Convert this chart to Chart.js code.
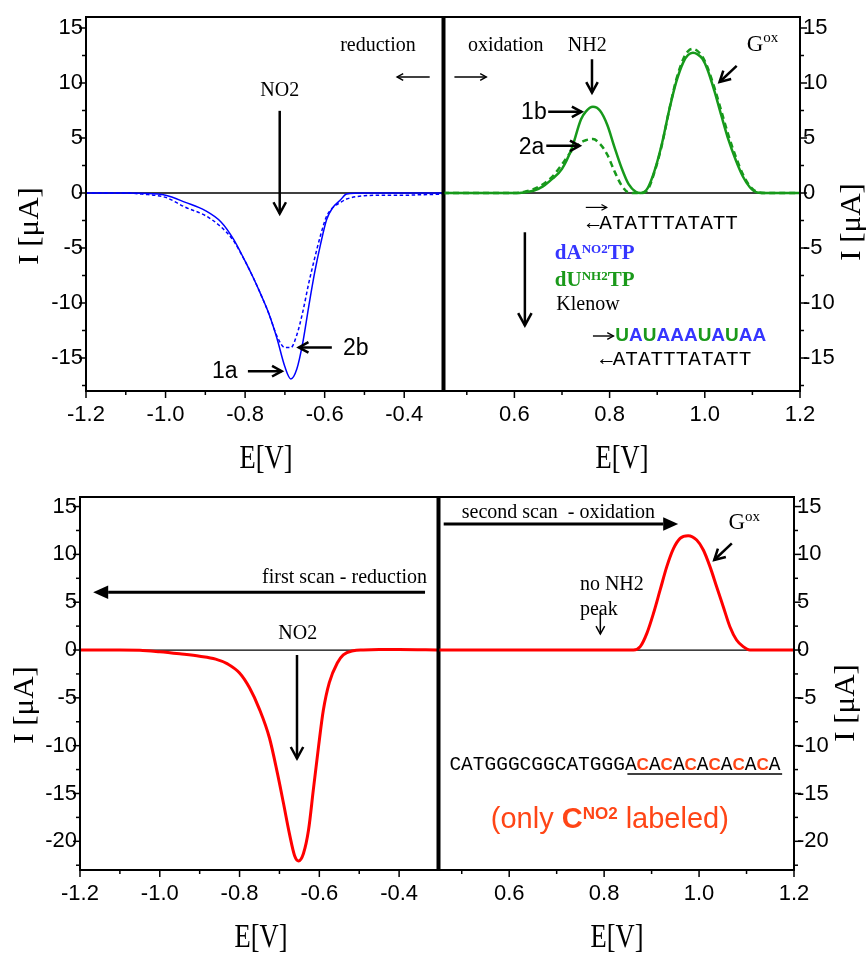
<!DOCTYPE html>
<html>
<head>
<meta charset="utf-8">
<script src="https://cdn.jsdelivr.net/npm/chart.js@4.4.1/dist/chart.umd.min.js"></script>
<style>
  html, body { margin: 0; padding: 0; background: #fff; }
  #fig { position: relative; width: 868px; height: 953px; overflow: hidden; }
  canvas { position: absolute; }
</style>
</head>
<body>
<div id="fig">
  <canvas id="tl" width="446" height="480" style="left:0;top:0"></canvas>
  <canvas id="tr" width="428" height="480" style="left:440px;top:0"></canvas>
  <canvas id="bl" width="442" height="473" style="left:0;top:480px"></canvas>
  <canvas id="br" width="433" height="473" style="left:435px;top:480px"></canvas>
</div>
<script>
// ---- values ----
// top left: reduction scan, solid = 1a, dashed = 2b
const tlE      = [-1.2, -1.1, -1.06, -1.0, -0.95, -0.9, -0.86, -0.83, -0.8, -0.78, -0.76, -0.74, -0.72, -0.70, -0.685, -0.67, -0.655, -0.64, -0.625, -0.61, -0.595, -0.58, -0.56, -0.545, -0.5, -0.45, -0.4, -0.35, -0.3];
const tlSolid  = [0, 0, -0.03, -0.2, -0.85, -1.6, -2.65, -4.15, -6.2, -7.66, -9.26, -11.0, -13.2, -15.8, -16.9, -16.0, -13.6, -10.3, -7.2, -4.6, -2.4, -1.35, -0.62, -0.1, 0, 0, 0, 0, 0];
const tlDashed = [0, 0, -0.1, -0.4, -1.3, -2.05, -3.1, -4.3, -6.2, -7.66, -9.26, -11.0, -13.0, -14.05, -14.05, -12.9, -10.8, -8.2, -5.9, -3.8, -2.1, -1.35, -0.85, -0.55, -0.25, -0.2, -0.2, -0.15, -0.1];

// top right: oxidation scan, solid = 1b, dashed = 2a
const trE      = [0.45, 0.55, 0.6, 0.62, 0.64, 0.66, 0.68, 0.70, 0.72, 0.74, 0.75, 0.765, 0.78, 0.795, 0.81, 0.825, 0.84, 0.855, 0.865, 0.88, 0.895, 0.91, 0.925, 0.94, 0.955, 0.965, 0.975, 0.985, 0.995, 1.005, 1.02, 1.035, 1.05, 1.065, 1.08, 1.095, 1.11, 1.13, 1.2];
const trSolid  = [0, 0, 0, 0.05, 0.2, 0.6, 1.3, 2.2, 4.0, 6.7, 7.4, 7.83, 7.47, 6.2, 4.2, 2.3, 0.8, 0.1, 0, 0.45, 2.1, 4.5, 7.5, 10.1, 11.9, 12.55, 12.75, 12.6, 12.2, 11.3, 9.3, 7.0, 4.8, 3.0, 1.5, 0.5, 0.05, 0, 0];
const trDashed = [0, 0, 0, 0.1, 0.35, 0.8, 1.5, 2.6, 3.8, 4.6, 4.8, 4.9, 4.45, 3.5, 2.0, 0.7, 0.05, 0, 0, 0.3, 2.0, 4.4, 7.5, 10.3, 12.2, 12.9, 13.1, 12.9, 12.4, 11.5, 9.6, 7.4, 5.2, 3.3, 1.7, 0.6, 0.1, 0, 0];

// bottom left: first scan (reduction)
const blE     = [-1.2, -1.1, -1.05, -1.0, -0.95, -0.9, -0.86, -0.83, -0.8, -0.775, -0.75, -0.725, -0.705, -0.69, -0.675, -0.662, -0.652, -0.64, -0.627, -0.615, -0.602, -0.59, -0.575, -0.555, -0.54, -0.515, -0.49, -0.45, -0.4, -0.3];
const blCurve = [0, 0, -0.02, -0.18, -0.4, -0.65, -0.95, -1.45, -2.4, -3.95, -6.2, -9.2, -12.9, -16.0, -19.2, -21.5, -22.05, -21.3, -18.8, -14.6, -10.1, -6.3, -3.4, -1.35, -0.5, -0.08, 0, 0.05, 0.05, 0];

// bottom right: second scan (oxidation)
const brE     = [0.45, 0.6, 0.7, 0.8, 0.85, 0.862, 0.876, 0.89, 0.904, 0.918, 0.932, 0.946, 0.96, 0.977, 0.995, 1.009, 1.023, 1.037, 1.051, 1.065, 1.079, 1.093, 1.107, 1.15, 1.2];
const brCurve = [0, 0, 0, 0, 0, 0, 0.35, 1.74, 3.84, 6.28, 8.72, 10.6, 11.68, 11.96, 11.5, 10.46, 8.72, 6.62, 4.53, 2.44, 1.05, 0.35, 0, 0, 0];

// ticks
const leftXTicks  = [-1.2, -1.0, -0.8, -0.6, -0.4];
const leftXMinor  = [-1.1, -0.9, -0.7, -0.5];
const rightXTicks = [0.6, 0.8, 1.0, 1.2];
const rightXMinor = [0.5, 0.7, 0.9, 1.1];
const topYTicks   = [15, 10, 5, 0, -5, -10, -15];
const topYMinor   = [12.5, 7.5, 2.5, -2.5, -7.5, -12.5, -17.5];
const botYTicks   = [15, 10, 5, 0, -5, -10, -15, -20];
const botYMinor   = [12.5, 7.5, 2.5, -2.5, -7.5, -12.5, -17.5, -22.5];

const SERIF = '"Liberation Serif", "Times New Roman", serif';
const SANS  = '"Liberation Sans", Arial, sans-serif';
const MONO  = '"Liberation Mono", "Courier New", monospace';
const BLUE_TXT = '#3535ff', GREEN_TXT = '#1a991a', ORANGE = '#ff4516';

// ---- drawing helpers ----
function drawRich(ctx, segs, x, y, align) {
  let w = 0;
  segs.forEach(s => { ctx.font = s.font; s.w = ctx.measureText(s.t).width; w += s.w; });
  let cx = align === 'center' ? x - w / 2 : align === 'right' ? x - w : x;
  ctx.textAlign = 'left';
  ctx.textBaseline = 'middle';
  segs.forEach(s => {
    ctx.font = s.font;
    ctx.fillStyle = s.color || '#000';
    ctx.fillText(s.t, cx, y + (s.dy || 0));
    cx += s.w;
  });
}

function drawArrow(ctx, x1, y1, x2, y2, lw, head, filled) {
  const ang = Math.atan2(y2 - y1, x2 - x1);
  ctx.lineWidth = lw;
  ctx.strokeStyle = '#000';
  ctx.fillStyle = '#000';
  ctx.lineCap = 'butt';
  if (filled) {
    const bx = x2 - Math.cos(ang) * head, by = y2 - Math.sin(ang) * head;
    ctx.beginPath(); ctx.moveTo(x1, y1); ctx.lineTo(bx, by); ctx.stroke();
    const hw = head * 0.45;
    ctx.beginPath();
    ctx.moveTo(x2, y2);
    ctx.lineTo(bx + Math.sin(ang) * hw, by - Math.cos(ang) * hw);
    ctx.lineTo(bx - Math.sin(ang) * hw, by + Math.cos(ang) * hw);
    ctx.closePath(); ctx.fill();
  } else {
    ctx.beginPath(); ctx.moveTo(x1, y1); ctx.lineTo(x2, y2); ctx.stroke();
    ctx.beginPath();
    ctx.moveTo(x2 - Math.cos(ang - 0.5) * head, y2 - Math.sin(ang - 0.5) * head);
    ctx.lineTo(x2, y2);
    ctx.lineTo(x2 - Math.cos(ang + 0.5) * head, y2 - Math.sin(ang + 0.5) * head);
    ctx.stroke();
  }
}

const panelDeco = {
  id: 'panelDeco',
  beforeDatasetsDraw(chart, args, o) {
    const {ctx, chartArea: a, scales: {y}} = chart;
    const y0 = y.getPixelForValue(0);
    ctx.save();
    ctx.strokeStyle = '#000'; ctx.lineWidth = 1.3;
    ctx.beginPath(); ctx.moveTo(a.left, y0); ctx.lineTo(a.right, y0); ctx.stroke();
    ctx.restore();
  },
  afterDraw(chart, args, o) {
    const {ctx, chartArea: a, scales: {x, y}} = chart;
    ctx.save();
    // frame + divider
    ctx.strokeStyle = '#000';
    ctx.lineWidth = 2;
    ctx.strokeRect(a.left, a.top, a.right - a.left, a.bottom - a.top);
    ctx.lineWidth = 3;
    const dx = o.divider === 'right' ? a.right : a.left;
    ctx.beginPath(); ctx.moveTo(dx, a.top - 1); ctx.lineTo(dx, a.bottom + 1); ctx.stroke();

    // tick marks
    ctx.lineWidth = 1.5;
    const xt = (vals, len) => vals.forEach(v => {
      const px = x.getPixelForValue(v);
      ctx.beginPath(); ctx.moveTo(px, a.bottom); ctx.lineTo(px, a.bottom + len); ctx.stroke();
    });
    xt(o.xMajor, 7); xt(o.xMinor, 4);
    const yt = (vals, len) => vals.forEach(v => {
      const py = y.getPixelForValue(v);
      const ax = o.ySide === 'left' ? a.left : a.right;
      const d = o.ySide === 'left' ? -len : len;
      ctx.beginPath(); ctx.moveTo(ax, py); ctx.lineTo(ax + d, py); ctx.stroke();
    });
    yt(o.yMajor, 7); yt(o.yMinor, 4);

    // axis titles (the source figure's serif titles are horizontally squeezed)
    ctx.fillStyle = '#000';
    ctx.textAlign = 'center'; ctx.textBaseline = 'middle';
    ctx.save();
    ctx.font = `34px ${SERIF}`;
    ctx.translate(o.xTitle.at[0], o.xTitle.at[1]); ctx.scale(0.78, 1);
    ctx.fillText(o.xTitle.text, 0, 0);
    ctx.restore();
    ctx.save();
    ctx.font = `31px ${SERIF}`;
    ctx.translate(o.yTitle.at[0], o.yTitle.at[1]); ctx.scale(0.95, 1); ctx.rotate(-Math.PI / 2);
    ctx.fillText(o.yTitle.text, 0, 0);
    ctx.restore();

    // annotations in data coordinates
    o.notes.forEach(n => {
      if (n.type === 'text') {
        const segs = n.segs || [{t: n.text, font: n.font, color: n.color}];
        drawRich(ctx, segs, x.getPixelForValue(n.at[0]), y.getPixelForValue(n.at[1]), n.align || 'center');
      } else if (n.type === 'arrow') {
        drawArrow(ctx, x.getPixelForValue(n.from[0]), y.getPixelForValue(n.from[1]),
          x.getPixelForValue(n.to[0]), y.getPixelForValue(n.to[1]), n.lw || 2.5, n.head || 11, n.filled);
      } else if (n.type === 'line') {
        ctx.lineWidth = n.lw || 1.5;
        ctx.strokeStyle = '#000';
        ctx.beginPath();
        ctx.moveTo(x.getPixelForValue(n.from[0]), y.getPixelForValue(n.from[1]));
        ctx.lineTo(x.getPixelForValue(n.to[0]), y.getPixelForValue(n.to[1]));
        ctx.stroke();
      }
    });
    ctx.restore();
  }
};

function series(xs, ys, color, width, dash) {
  return {
    data: xs.map((v, i) => ({x: v, y: ys[i]})),
    borderColor: color, borderWidth: width, borderDash: dash || [],
    pointRadius: 0, fill: false, cubicInterpolationMode: 'monotone'
  };
}

function buildPanel(id, p) {
  const tickFont = {family: SANS, size: 22};
  return new Chart(document.getElementById(id), {
    type: 'line',
    data: {datasets: p.datasets},
    options: {
      responsive: false, animation: false, devicePixelRatio: 1,
      layout: {padding: p.padding},
      plugins: {legend: {display: false}, tooltip: {enabled: false}, panelDeco: p.deco},
      scales: {
        x: {
          type: 'linear', min: p.xRange[0], max: p.xRange[1],
          afterBuildTicks: s => { s.ticks = p.deco.xMajor.map(v => ({value: v})); },
          afterFit: s => { s.height = p.xAxisH; },
          grid: {display: false, drawTicks: false}, border: {display: false},
          ticks: {font: tickFont, color: '#000', padding: 11, maxRotation: 0, autoSkip: false,
                  callback: v => v.toFixed(1)}
        },
        y: {
          type: 'linear', position: p.deco.ySide, min: p.yRange[0], max: p.yRange[1],
          afterBuildTicks: s => { s.ticks = p.deco.yMajor.map(v => ({value: v})); },
          afterFit: s => { s.width = p.yAxisW; },
          grid: {display: false, drawTicks: false}, border: {display: false},
          ticks: {font: tickFont, color: '#000', padding: 3, autoSkip: false, callback: v => String(v)}
        }
      }
    },
    plugins: [panelDeco]
  });
}

const serif20 = `20px ${SERIF}`;
const sans23 = `23px ${SANS}`;
const mono21 = `21px ${MONO}`;

// ---- top left ----
buildPanel('tl', {
  datasets: [
    series(tlE, tlSolid, '#0000ff', 1.5),
    series(tlE, tlDashed, '#0000ff', 1.5, [3.5, 2.5])
  ],
  xRange: [-1.2, -0.3], yRange: [-18, 16],
  padding: {left: 0, top: 17, right: 2, bottom: 0}, yAxisW: 86, xAxisH: 89,
  deco: {
    divider: 'right', ySide: 'left',
    xMajor: leftXTicks, xMinor: leftXMinor, yMajor: topYTicks, yMinor: topYMinor,
    xTitle: {text: 'E[V]', at: [266, 459]}, yTitle: {text: 'I [μA]', at: [30, 226]},
    notes: [
      {type: 'text', at: [-0.466, 13.4], text: 'reduction', font: serif20},
      {type: 'arrow', from: [-0.336, 10.55], to: [-0.418, 10.55], lw: 1.4, head: 7},
      {type: 'text', at: [-0.713, 9.3], text: 'NO2', font: serif20},
      {type: 'arrow', from: [-0.713, 7.47], to: [-0.713, -1.88], lw: 2.5, head: 13},
      {type: 'text', at: [-0.522, -14.13], text: '2b', font: sans23},
      {type: 'arrow', from: [-0.582, -14.04], to: [-0.665, -14.04], lw: 2.5, head: 11},
      {type: 'text', at: [-0.851, -16.2], text: '1a', font: sans23},
      {type: 'arrow', from: [-0.793, -16.2], to: [-0.708, -16.2], lw: 2.5, head: 11}
    ]
  }
});

// ---- top right ----
const uaColors = {U: GREEN_TXT, A: BLUE_TXT};
buildPanel('tr', {
  datasets: [
    series(trE, trSolid, '#17991b', 2.5),
    series(trE, trDashed, '#17991b', 2.5, [6, 4])
  ],
  xRange: [0.45, 1.2], yRange: [-18, 16],
  padding: {left: 3, top: 17, right: 0, bottom: 0}, yAxisW: 68, xAxisH: 89,
  deco: {
    divider: 'left', ySide: 'right',
    xMajor: rightXTicks, xMinor: rightXMinor, yMajor: topYTicks, yMinor: topYMinor,
    xTitle: {text: 'E[V]', at: [182, 459]}, yTitle: {text: 'I [μA]', at: [412, 222]},
    notes: [
      {type: 'arrow', from: [0.474, 10.55], to: [0.541, 10.55], lw: 1.4, head: 7},
      {type: 'text', at: [0.582, 13.4], text: 'oxidation', font: serif20},
      {type: 'text', at: [0.753, 13.4], text: 'NH2', font: serif20},
      {type: 'arrow', from: [0.763, 12.16], to: [0.763, 9.13], lw: 2.5, head: 12},
      {type: 'text', at: [1.088, 13.5], align: 'left', segs: [
        {t: 'G', font: `23px ${SERIF}`}, {t: 'ox', font: `15px ${SERIF}`, dy: -6}]},
      {type: 'arrow', from: [1.067, 11.55], to: [1.031, 10.09], lw: 2.5, head: 12},
      {type: 'text', at: [0.641, 7.31], text: '1b', font: sans23},
      {type: 'arrow', from: [0.671, 7.38], to: [0.741, 7.38], lw: 2.5, head: 11},
      {type: 'text', at: [0.636, 4.14], text: '2a', font: sans23},
      {type: 'arrow', from: [0.667, 4.29], to: [0.737, 4.29], lw: 2.5, head: 11},
      {type: 'arrow', from: [0.750, -1.31], to: [0.794, -1.31], lw: 1.2, head: 6},
      {type: 'text', at: [0.752, -2.76], align: 'left', text: '←ATATTTATATT', font: mono21},
      {type: 'arrow', from: [0.622, -3.57], to: [0.622, -12.04], lw: 2.5, head: 14},
      {type: 'text', at: [0.685, -5.54], align: 'left', segs: [
        {t: 'dA', font: `bold 21px ${SERIF}`, color: BLUE_TXT},
        {t: 'NO2', font: `bold 13px ${SERIF}`, color: BLUE_TXT, dy: -4},
        {t: 'TP', font: `bold 21px ${SERIF}`, color: BLUE_TXT}]},
      {type: 'text', at: [0.685, -7.96], align: 'left', segs: [
        {t: 'dU', font: `bold 21px ${SERIF}`, color: GREEN_TXT},
        {t: 'NH2', font: `bold 13px ${SERIF}`, color: GREEN_TXT, dy: -4},
        {t: 'TP', font: `bold 21px ${SERIF}`, color: GREEN_TXT}]},
      {type: 'text', at: [0.688, -10.14], align: 'left', text: 'Klenow', font: serif20},
      {type: 'arrow', from: [0.765, -13.0], to: [0.808, -13.0], lw: 1.4, head: 7},
      {type: 'text', at: [0.812, -13.0], align: 'left',
        segs: 'UAUAAAUAUAA'.split('').map(c => ({t: c, font: `bold 19px ${SANS}`, color: uaColors[c]}))},
      {type: 'text', at: [0.780, -15.15], align: 'left', text: '←ATATTTATATT', font: mono21}
    ]
  }
});

// ---- bottom left ----
buildPanel('bl', {
  datasets: [series(blE, blCurve, '#ff0000', 3)],
  xRange: [-1.2, -0.3], yRange: [-23, 16],
  padding: {left: 0, top: 17, right: 3, bottom: 0}, yAxisW: 80, xAxisH: 83,
  deco: {
    divider: 'right', ySide: 'left',
    xMajor: leftXTicks, xMinor: leftXMinor, yMajor: botYTicks, yMinor: botYMinor,
    xTitle: {text: 'E[V]', at: [261, 458]}, yTitle: {text: 'I [μA]', at: [25, 225]},
    notes: [
      {type: 'text', at: [-0.330, 7.57], align: 'right', text: 'first scan - reduction', font: serif20},
      {type: 'arrow', from: [-0.335, 6.03], to: [-1.167, 6.03], lw: 3, head: 15, filled: true},
      {type: 'text', at: [-0.654, 1.74], text: 'NO2', font: serif20},
      {type: 'arrow', from: [-0.656, -0.52], to: [-0.656, -11.33], lw: 2.5, head: 13}
    ]
  }
});

// ---- bottom right ----
const seqSegs = [{t: 'CATGGGCGGCATGGGA', font: `19.5px ${MONO}`}];
'CACACACACACA'.split('').forEach(c => seqSegs.push(c === 'C'
  ? {t: 'C', font: `bold 17px ${SANS}`, color: ORANGE}
  : {t: 'A', font: `19.5px ${MONO}`}));
buildPanel('br', {
  datasets: [series(brE, brCurve, '#ff0000', 3)],
  xRange: [0.45, 1.2], yRange: [-23, 16],
  padding: {left: 3, top: 17, right: 0, bottom: 0}, yAxisW: 74, xAxisH: 83,
  deco: {
    divider: 'left', ySide: 'right',
    xMajor: rightXTicks, xMinor: rightXMinor, yMajor: botYTicks, yMinor: botYMinor,
    xTitle: {text: 'E[V]', at: [182, 458]}, yTitle: {text: 'I [μA]', at: [411, 223]},
    notes: [
      {type: 'text', at: [0.500, 14.4], align: 'left', text: 'second scan  - oxidation', font: serif20},
      {type: 'arrow', from: [0.462, 13.18], to: [0.956, 13.18], lw: 3, head: 15, filled: true},
      {type: 'text', at: [1.062, 13.3], align: 'left', segs: [
        {t: 'G', font: `23px ${SERIF}`}, {t: 'ox', font: `15px ${SERIF}`, dy: -6}]},
      {type: 'arrow', from: [1.069, 11.16], to: [1.032, 9.41], lw: 2.5, head: 12},
      {type: 'text', at: [0.749, 6.8], align: 'left', text: 'no NH2', font: serif20},
      {type: 'text', at: [0.749, 4.18], align: 'left', text: 'peak', font: serif20},
      {type: 'arrow', from: [0.792, 4.0], to: [0.792, 1.67], lw: 1.5, head: 9},
      {type: 'text', at: [0.474, -12.03], align: 'left', segs: seqSegs},
      {type: 'line', from: [0.849, -12.97], to: [1.175, -12.97], lw: 1.5},
      {type: 'text', at: [0.812, -17.8], align: 'center', segs: [
        {t: '(only ', font: `29px ${SANS}`, color: ORANGE},
        {t: 'C', font: `bold 29px ${SANS}`, color: ORANGE},
        {t: 'NO2', font: `bold 17px ${SANS}`, color: ORANGE, dy: -6},
        {t: ' labeled)', font: `29px ${SANS}`, color: ORANGE}]}
    ]
  }
});
</script>
</body>
</html>
